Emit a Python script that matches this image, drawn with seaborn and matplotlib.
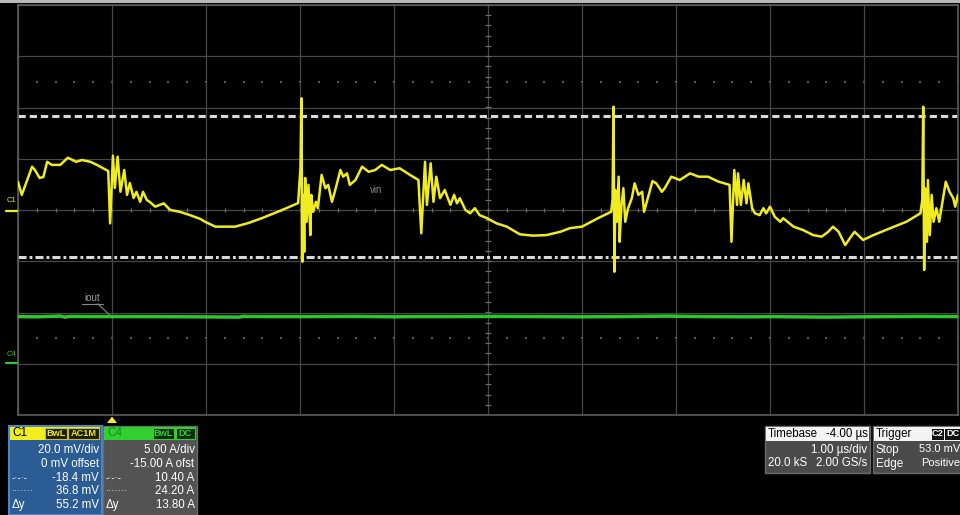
import numpy as np
import pandas as pd
import seaborn as sns
import matplotlib.pyplot as plt
from matplotlib.patches import Rectangle, Polygon
from matplotlib.lines import Line2D

# C1 trace (vin) : time in us, voltage in mV
vin_t = [-1.00, -0.96, -0.85, -0.82, -0.77, -0.73, -0.69, -0.64, -0.55, -0.47, -0.38, -0.32,
         -0.23, -0.16, -0.04, -0.02, 0.01, 0.03, 0.06, 0.09, 0.13, 0.16, 0.19, 0.23, 0.26, 0.30,
         0.33, 0.37, 0.40, 0.46, 0.55, 0.62, 0.72, 0.83, 0.94, 0.99,
         1.10, 1.31, 1.45, 1.60, 1.81, 1.98, 2.005, 2.015, 2.025, 2.035, 2.045, 2.055, 2.07,
         2.09, 2.11, 2.12, 2.14, 2.17, 2.19, 2.23, 2.27, 2.30, 2.34, 2.37, 2.43, 2.46, 2.50,
         2.53, 2.59, 2.66, 2.73, 2.80, 2.87,
         2.96, 3.06, 3.17, 3.26, 3.29, 3.33, 3.35, 3.39, 3.42, 3.45, 3.49, 3.54, 3.60, 3.64,
         3.67, 3.70, 3.76, 3.81, 3.86, 3.91, 3.99, 4.09, 4.20, 4.34, 4.48, 4.62, 4.77, 4.87,
         5.00, 5.17, 5.31, 5.325, 5.335, 5.345, 5.355, 5.37, 5.39, 5.40, 5.42, 5.44, 5.46,
         5.49, 5.53, 5.56, 5.60, 5.64, 5.66, 5.71, 5.75, 5.79, 5.85, 5.88, 5.95, 6.04, 6.15,
         6.24, 6.34, 6.45, 6.57, 6.59, 6.62, 6.65, 6.66, 6.69, 6.72, 6.75, 6.77, 6.81, 6.84,
         6.89, 6.93, 6.96, 7.00, 7.05, 7.11, 7.14, 7.25, 7.35, 7.46, 7.55, 7.62, 7.67, 7.73,
         7.80, 7.85, 7.90, 7.99, 8.10, 8.28, 8.45, 8.60, 8.62, 8.63, 8.64, 8.65, 8.67, 8.68,
         8.70, 8.72, 8.74, 8.77, 8.80, 8.83, 8.87, 8.91, 8.95, 8.97, 9.00]
vin_mv = [11.0, 5.9, 16.9, 15.6, 12.5, 12.9, 18.8, 17.6, 17.6, 20.4, 18.8, 19.5,
          18.8, 17.6, 15.2, -5.2, 21.2, 8.6, 20.8, 7.1, 15.6, 5.9, 10.5, 4.7, 7.1, 3.2,
          7.1, 3.9, 3.2, 1.3, 2.6, 0.0, -0.7, -2.0, -3.5, -4.6,
          -6.5, -6.5, -5.1, -3.1, 0.0, 2.7, 16.4, 43.6, -20.2, 5.9, -16.3, 12.5, -4.6,
          9.8, -9.8, 5.9, -0.7, 3.2, 0.7, 13.7, 8.5, 9.8, 3.2, 7.1, 15.6, 13.0, 14.3,
          9.8, 11.7, 16.9, 14.9, 15.6, 17.6,
          15.6, 16.3, 13.7, 11.7, -9.1, 18.8, 2.0, 18.2, 3.2, 13.0, 4.6, 7.8, 2.0, 5.9,
          2.6, 4.6, 0.0, -1.3, 0.7, -2.0, -3.2, -5.2, -6.5, -9.5, -10.0, -9.8, -8.5, -7.1,
          -6.5, -3.2, -0.7, 3.9, 40.3, -24.1, 7.8, -4.6, 13.0, -12.4, 1.9, 8.5, -4.6,
          0.7, 4.6, 10.4, 5.9, 7.1, -0.7, 5.9, 11.3, 10.4, 7.1, 8.5, 13.0, 11.7, 14.3,
          13.0, 13.0, 11.1, 9.8, -12.4, 15.6, 2.0, 14.3, 2.0, 11.7, 2.6, 10.4, 0.7, -1.3,
          -2.0, 0.7, -1.3, 1.3, -2.6, -4.6, -3.2, -6.5, -7.8, -9.8, -10.4, -8.5, -6.5, -8.5,
          -13.7, -11.0, -8.5, -11.7, -9.8, -7.1, -4.6, -1.3, 3.9, 40.3, -23.4, 8.5, -12.4, 11.7,
          -9.8, 5.9, -4.6, 0.7, -4.6, 2.0, 11.0, 7.1, 4.6, 1.3, 5.9]

# C4 trace (iout) : time in us, current in A
iout_t = [-1.0, -0.8, -0.55, -0.5, -0.45, -0.2, 0.3, 0.9, 1.35, 1.4, 1.7, 2.0, 2.6, 3.0,
          3.2, 3.5, 4.1, 4.6, 5.0, 5.4, 5.9, 6.3, 6.8, 7.0, 7.6, 8.2, 8.6, 9.0]
iout_a = [4.6, 4.58, 4.65, 4.55, 4.62, 4.6, 4.6, 4.58, 4.55, 4.62, 4.6, 4.6, 4.62, 4.58,
          4.6, 4.6, 4.62, 4.6, 4.58, 4.6, 4.65, 4.6, 4.58, 4.6, 4.55, 4.6, 4.62, 4.6]

# channel settings
c1_scale = 20.0     # mV/div
c1_offset = 0.0
c4_scale = 5.0      # A/div
c4_offset = -15.0
cursor_top_mv = 36.8
cursor_bot_mv = -18.4

W, H = 960, 515

sns.set_style("dark", {"axes.facecolor": "black", "figure.facecolor": "black"})
plt.rcParams['font.family'] = ['Liberation Sans', 'DejaVu Sans']
plt.rcParams['lines.scale_dashes'] = False


def fx(x):
    return x / W


def fy(y):
    return 1 - y / H


fig = plt.figure(figsize=(W / 100, H / 100), dpi=100)
ax = fig.add_axes([fx(18), fy(415), 940 / W, 410 / H])

# traces, in divisions on screen
df_vin = pd.DataFrame({'t': vin_t, 'div': (np.array(vin_mv) + c1_offset) / c1_scale})
df_iout = pd.DataFrame({'t': iout_t, 'div': (np.array(iout_a) + c4_offset) / c4_scale})

sns.lineplot(data=df_vin, x='t', y='div', ax=ax, color='#f0ec22', lw=1.8,
             estimator=None, sort=False, zorder=4)
sns.lineplot(data=df_iout, x='t', y='div', ax=ax, color='#2cc72c', lw=2.5,
             estimator=None, sort=False, zorder=3)

# graticule
ax.set_xlim(-1, 9)
ax.set_ylim(-4, 4)
ax.set_xticks(np.arange(-1, 10))
ax.set_yticks(np.arange(-4, 5))
ax.tick_params(length=0, labelbottom=False, labelleft=False)
ax.set_xlabel('')
ax.set_ylabel('')
ax.grid(True, color='#474747', lw=0.9)
for s in ax.spines.values():
    s.set_color('#5c5c5c')
    s.set_linewidth(1.2)

xs = np.arange(-1, 9.001, 0.2)
ys = np.arange(-4, 4.001, 0.2)
ax.vlines(xs, -0.045, 0.045, color='#6a6a6a', lw=0.9, zorder=1)
ax.hlines(ys, 4 - 0.035, 4 + 0.035, color='#6a6a6a', lw=0.9, zorder=1)
for yy in [2.5, -2.5]:
    ax.scatter(xs, np.full(len(xs), yy), s=1.2, marker='s', color='#5a5a5a', lw=0, zorder=1)

# cursors
ax.axhline(cursor_top_mv / c1_scale, color='#d9d9d9', lw=2.2, dashes=(5.2, 2.9), zorder=2)
ax.axhline(cursor_bot_mv / c1_scale, color='#d9d9d9', lw=2.2, dashes=(5.8, 2.2, 2.0, 2.2), zorder=2)

# trace labels
ax.text(2.81, 0.39, 'vin', color='#8a8a8a', fontsize=7, ha='center', va='center')
ax.text(-0.21, -1.72, 'iout', color='#9a9a9a', fontsize=7, ha='center', va='center')
ax.plot([-0.32, -0.10], [-1.83, -1.83], color='#8a8a8a', lw=0.8)
ax.plot([-0.15, -0.02], [-1.83, -2.06], color='#8a8a8a', lw=0.8)

# channel markers on the left edge
fig.text(fx(7), fy(201), 'C1', color='#f0ec22', fontsize=5.5, va='center')
fig.add_artist(Line2D([fx(6), fx(17)], [fy(210.5), fy(210.5)], color='#f0ec22', lw=1.6))
fig.text(fx(7), fy(355), 'C4', color='#2cc72c', fontsize=5.5, va='center')
fig.add_artist(Line2D([fx(6), fx(17)], [fy(362.5), fy(362.5)], color='#2cc72c', lw=1.6))

# top window edge
fig.add_artist(Rectangle((0, fy(2.5)), 1, 2.5 / H, color='#b8b8b8', lw=0))

# trigger marker
fig.add_artist(Polygon([[fx(107), fy(423)], [fx(117), fy(423)], [fx(112), fy(416.5)]],
                       closed=True, color='#f0ec22', lw=0))


def box(x0, y0, x1, y1, fc, ec='none', lw=0):
    fig.add_artist(Rectangle((fx(x0), fy(y1)), fx(x1) - fx(x0), (y1 - y0) / H,
                             facecolor=fc, edgecolor=ec, lw=lw))


def txt(x, y, s, color='white', ha='left', size=8.3, weight='normal'):
    fig.text(fx(x), fy(y), s, color=color, ha=ha, va='center', fontsize=size, fontweight=weight)


# C1 panel
box(8.5, 425.5, 101.5, 515, '#2b5c94', ec='#4d86c8', lw=1.5)
box(10, 426.5, 100, 440, '#f2ee1c')
txt(12.5, 433.5, 'C1', color='black', size=8.5)
box(45, 428, 66.5, 439, '#1c1c08', ec='#c9c31a', lw=0.8)
txt(55.7, 433.7, 'BwL', color='#f2ee1c', ha='center', size=6.6, weight='bold')
box(67.5, 428, 99.3, 439, '#1c1c08', ec='#c9c31a', lw=0.8)
txt(83.4, 433.7, 'AC1M', color='#f2ee1c', ha='center', size=6.6, weight='bold')
c1_rows = ['20.0 mV/div', '0 mV offset', '-18.4 mV', '36.8 mV', '55.2 mV']
row_y = [450, 464, 478, 491.5, 505]
for s, yy in zip(c1_rows, row_y):
    txt(99, yy, s, ha='right')
txt(12, 478, '-·-·-', size=7)
txt(12, 491.5, '·······', size=7)
txt(12, 505, 'Δy')

# C4 panel
box(103, 425.5, 196.5, 515, '#535353', ec='#6a6a6a', lw=1)
box(104, 426.5, 196, 440, '#2fd02f')
txt(107, 433.5, 'C4', color='#168f16', size=8.5)
box(152.5, 428, 174, 439, '#0b2a0b', ec='#2fd02f', lw=0.8)
txt(163.3, 433.7, 'BwL', color='#2fd02f', ha='center', size=6.6, weight='bold')
box(175.5, 428, 195, 439, '#0b2a0b', ec='#2fd02f', lw=0.8)
txt(185.3, 433.7, 'DC', color='#2fd02f', ha='center', size=6.6, weight='bold')
c4_rows = ['5.00 A/div', '-15.00 A ofst', '10.40 A', '24.20 A', '13.80 A']
for s, yy in zip(c4_rows, row_y):
    txt(194.5, yy, s, ha='right')
txt(106, 478, '-·-·-', size=7)
txt(106, 491.5, '·······', size=7)
txt(106, 505, 'Δy')

# Timebase panel
box(765, 426, 870, 472.5, '#4b4b4b', ec='#6a6a6a', lw=1)
box(766, 427, 869, 440.5, '#f4f4f4')
txt(768, 434, 'Timebase', color='black')
txt(867.5, 434, '-4.00 µs', color='black', ha='right')
txt(867.5, 449.5, '1.00 µs/div', ha='right')
txt(767.5, 463.5, '20.0 kS')
txt(867.5, 463.5, '2.00 GS/s', ha='right')

# Trigger panel (cut by the screenshot's right edge, as in the original)
box(873, 426, 962, 472.5, '#4b4b4b', ec='#6a6a6a', lw=1)
box(874, 427, 962, 440.5, '#f4f4f4')
txt(876, 434, 'Trigger', color='black')
box(931.5, 428.5, 943.5, 439.5, '#111111')
txt(937.5, 434, 'C2', ha='center', size=6.6, weight='bold')
box(944.5, 428.5, 962, 439.5, '#111111')
txt(946, 434, 'DC', size=6.6, weight='bold')
txt(876, 449.5, 'Stop')
txt(919, 449.5, '53.0 mV', size=8.0)
txt(876, 463.5, 'Edge')
txt(921, 463.5, 'Positive', size=8.0)

fig.savefig('out.png', dpi=100, facecolor='black')
